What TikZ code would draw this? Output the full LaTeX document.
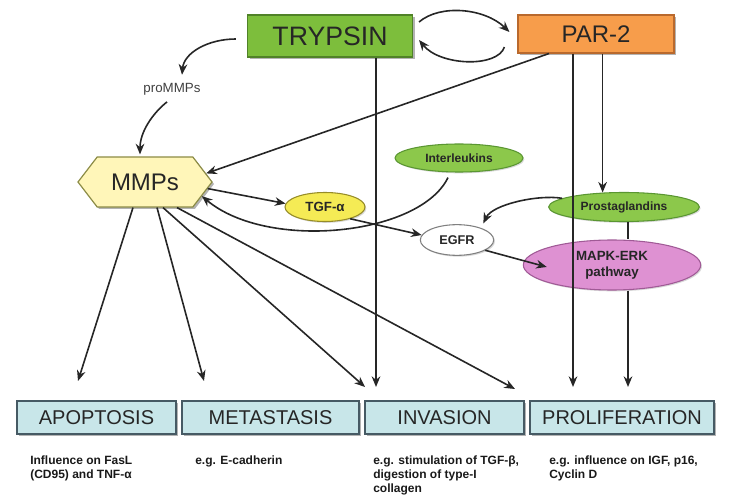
\documentclass[tikz,border=0pt]{standalone}
\usepackage{fontspec}
\setmainfont{Liberation Sans}
\usepackage{tikz}
\usetikzlibrary{arrows.meta, positioning, calc, shapes.geometric, shapes.symbols, shadows}
\definecolor{trypgreen}{RGB}{125,190,60}
\definecolor{trypline}{RGB}{80,130,40}
\definecolor{parorange}{RGB}{247,157,75}
\definecolor{parline}{RGB}{185,105,45}
\definecolor{mmpyellow}{RGB}{255,246,185}
\definecolor{mmpline}{RGB}{140,140,70}
\definecolor{leafgreen}{RGB}{140,200,75}
\definecolor{leafline}{RGB}{90,150,50}
\definecolor{tgfyellow}{RGB}{245,235,85}
\definecolor{tgfline}{RGB}{150,140,40}
\definecolor{mapkpink}{RGB}{222,145,210}
\definecolor{mapkline}{RGB}{160,90,150}
\definecolor{boxblue}{RGB}{200,230,233}
\definecolor{boxline}{RGB}{70,90,100}

\begin{document}
\begin{tikzpicture}[x=0.75pt, y=-0.75pt,
  arr/.style={-{Stealth[length=8pt,width=6.5pt]}, line width=1.2pt, black!85},
  shade/.style={drop shadow={shadow xshift=1.5pt, shadow yshift=-1.5pt, fill=black!50, opacity=0.6}},
  softshade/.style={drop shadow={shadow xshift=1pt, shadow yshift=-1pt, fill=black!30, opacity=0.5}},
  topbox/.style={draw, line width=0.8pt, shade, inner sep=0pt, text=black!85},
  outbox/.style={draw=boxline, fill=boxblue, line width=1pt, shade, minimum height=24.75pt,
    inner sep=0pt, font=\fontsize{15}{18}\selectfont, text=black!85},
  blob/.style={ellipse, draw, line width=0.8pt, inner sep=0pt, softshade,
    font=\bfseries\fontsize{9}{10}\selectfont, text=black!85},
  note/.style={anchor=north west, inner sep=0pt, align=left,
    font=\bfseries\fontsize{9}{10.5}\selectfont, text=black!90}]

  \useasboundingbox (0,0) rectangle (734,498);

  % top row
  \node[topbox, fill=trypgreen, draw=trypline, minimum width=123.75pt, minimum height=31.5pt,
    font=\fontsize{20}{24}\selectfont] (trypsin) at (330,36) {TRYPSIN};
  \node[topbox, fill=parorange, draw=parline, minimum width=117pt, minimum height=28.5pt,
    font=\fontsize{18}{22}\selectfont] (par) at (596,34) {PAR-2};
  \node[inner sep=0pt, font=\fontsize{10}{12}\selectfont, text=black!75] (pro) at (172,89) {proMMPs};
  \node[signal, signal to=west and east, signal pointer angle=105, draw=mmpline, fill=mmpyellow,
    line width=0.9pt, shade, minimum width=100.5pt, minimum height=37.5pt, inner sep=0pt,
    font=\fontsize{18}{22}\selectfont, text=black!85] (mmps) at (145,182) {MMPs};

  % middle ellipses
  \node[blob, fill=leafgreen, draw=leafline, minimum width=96pt, minimum height=21pt] (ilk) at (459,158) {Interleukins};
  \node[blob, fill=tgfyellow, draw=tgfline, minimum width=60pt, minimum height=21.75pt,
    font=\bfseries\fontsize{10}{12}\selectfont] (tgf) at (325,207) {TGF-α};
  \node[blob, fill=white, draw=black!50, minimum width=55pt, minimum height=23pt,
    font=\bfseries\fontsize{9.5}{11}\selectfont] (egfr) at (457,240) {EGFR};
  \node[blob, fill=leafgreen, draw=leafline, minimum width=113pt, minimum height=21.75pt] (prost) at (624,207) {Prostaglandins};
  \node[blob, fill=mapkpink, draw=mapkline, minimum width=133pt, minimum height=37.5pt, align=center,
    font=\bfseries\fontsize{10}{12}\selectfont] (mapk) at (612,265) {MAPK-ERK\\pathway};

  % bottom row
  \node[outbox, minimum width=119.25pt] (apop) at (96.5,417.5) {APOPTOSIS};
  \node[outbox, minimum width=132.75pt] (meta) at (270.5,417.5) {METASTASIS};
  \node[outbox, minimum width=119.25pt] (inv) at (444.5,417.5) {INVASION};
  \node[outbox, minimum width=138pt] (prolif) at (622,417.5) {PROLIFERATION};

  \node[note] (apopnote) at (30,456) {Influence on FasL\\(CD95) and TNF-α};
  \node[note] (metanote) at (195,456) {e.g. E-cadherin};
  \node[note] (invnote) at (373,456) {e.g. stimulation of TGF-β,\\digestion of type-I\\collagen};
  \node[note] (prolnote) at (549,456) {e.g. influence on IGF, p16,\\Cyclin D};

  % arrow tips above the outcome boxes
  \coordinate (tipA) at (78,381);
  \coordinate (tipM) at (204,381);
  \coordinate (tipI1) at (365,387);
  \coordinate (tipI2) at (376,387);
  \coordinate (tipI3) at (515,389);
  \coordinate (tipP1) at (573,387);
  \coordinate (tipP2) at (628,387);

  % trypsin <-> PAR-2
  \draw[arr] ([xshift=4.5pt,yshift=10.5pt]trypsin.east) .. controls +(21,-18) and +(-25,-24) .. ([xshift=-6pt,yshift=1.5pt]par.west);
  \draw[arr] ([xshift=-9.75pt,yshift=-9.75pt]par.west) .. controls +(-7,21) and +(21,26) .. ([xshift=4.5pt,yshift=-3pt]trypsin.east);

  % activation of MMPs
  \draw[arr] ([xshift=-8.25pt,yshift=-2.25pt]trypsin.west) .. controls +(-28,0) and +(2,-22) .. ([xshift=7.5pt,yshift=6pt]pro.north);
  \draw[arr] ([xshift=-3.75pt,yshift=-5pt]pro.south) .. controls +(-15,12) and +(0,-22) .. ([xshift=-3.75pt,yshift=1.5pt]mmps.north);
  \draw[arr] ([xshift=-35.25pt]par.south) -- (mmps.8);

  % long verticals
  \draw[arr] (trypsin.south -| tipI2) -- (tipI2);
  \draw[arr] (par.south -| tipP1) -- (tipP1);
  \draw[arr] (par.south -| prost.146) -- (prost.146);
  \draw[line width=1.2pt, black!85] (prost.south -| tipP2) -- (mapk.north -| tipP2);
  \draw[arr] (mapk.south -| tipP2) -- (tipP2);

  % MMPs fan
  \draw[arr] ([xshift=-9pt]mmps.south) -- (tipA);
  \draw[arr] ([xshift=9pt]mmps.south) -- (tipM);
  \draw[arr] ([xshift=13.5pt]mmps.south) -- (tipI1);
  \draw[arr] ([xshift=24pt]mmps.south) -- (tipI3);

  % growth factor loop
  \draw[arr] (mmps.-6) -- (tgf.175);
  \draw[arr] ([xshift=-8.25pt,yshift=-3.75pt]ilk.south) .. controls +(-28,58) and +(66,55) .. (mmps.-14);
  \draw[arr] (tgf.-25) -- (egfr.172);
  \draw[arr] (prost.172) .. controls +(-24,-4) and +(9,-19) .. ([yshift=4pt]egfr.north east);
  \draw[arr] (egfr.-20) -- ([xshift=18pt,yshift=-1.5pt]mapk.west);
\end{tikzpicture}
\end{document}
